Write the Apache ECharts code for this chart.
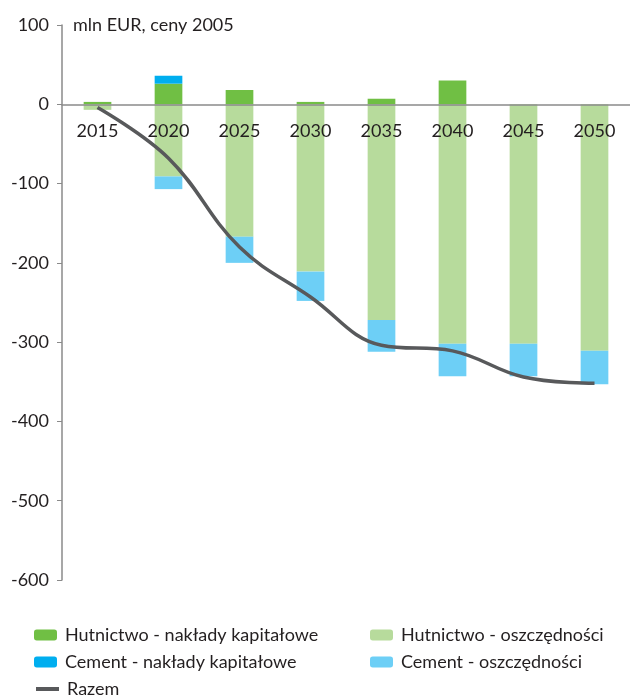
<!DOCTYPE html>
<html>
<head>
<meta charset="utf-8">
<script src="https://cdn.jsdelivr.net/npm/echarts@6/dist/echarts.min.js"></script>
<style>
html,body{margin:0;padding:0;background:#fff;}
#chart{width:630px;height:697px;}
</style>
</head>
<body>
<div id="chart"></div>
<script>
const years = ['2015','2020','2025','2030','2035','2040','2045','2050'];
const steelCapex = [3, 26, 18, 3, 7, 30, 0, 0];
const cementCapex = [0, 10, 0, 0, 0, 0, 0, 0];
const steelSavings = [-7, -91, -167, -211, -272, -302, -302, -311];
const cementSavings = [0, -16, -33, -37, -40, -41, -41, -42];
const razem = [-4, -68, -180, -243, -304, -311, -344, -352];
const yTicks = [100, 0, -100, -200, -300, -400, -500, -600];

const FONT = 'Lato';
const FS = 18;
const TXT = '#231F20';
const AX = '#8a8a8a';
const Y_MIN = -600, Y_MAX = 100;
const GRID_TOP = 25, GRID_BOTTOM = 117, H = 697;
const gridH = H - GRID_TOP - GRID_BOTTOM;
// move the category axis (line + labels) up to the value 0
const zeroOffset = -gridH * (0 - Y_MIN) / (Y_MAX - Y_MIN);

const legendText = {fontFamily: FONT, fontSize: FS, color: TXT, padding: [0,0,0,3]};
function oneLegend(name, left, top, extra) {
  return Object.assign({
    orient: 'horizontal', left: left, top: top, padding: 0,
    itemWidth: 23, itemHeight: 11, textStyle: legendText,
    data: [name]
  }, extra || {});
}

const chart = echarts.init(document.getElementById('chart'));
chart.setOption({
  animation: false,
  textStyle: {fontFamily: FONT},
  title: {
    text: 'mln EUR, ceny 2005', left: 73, top: 16, padding: 0,
    textStyle: {fontFamily: FONT, fontSize: FS, fontWeight: 'normal', color: TXT}
  },
  grid: {left: 62, right: 0, top: GRID_TOP, bottom: GRID_BOTTOM, containLabel: false},
  xAxis: {
    type: 'category', data: years, position: 'bottom', offset: zeroOffset, z: 10,
    axisTick: {show: false},
    axisLine: {onZero: false, lineStyle: {color: AX, width: 1.5}},
    axisLabel: {fontFamily: FONT, fontSize: FS, color: TXT, margin: 18}
  },
  yAxis: {
    type: 'value', min: Y_MIN, max: Y_MAX, interval: 100,
    splitLine: {show: false},
    axisLine: {show: true, lineStyle: {color: AX, width: 1.5}},
    axisTick: {show: true, length: 5, lineStyle: {color: AX}},
    axisLabel: {fontFamily: FONT, fontSize: FS, color: TXT, margin: 13,
      formatter: v => yTicks.includes(v) ? String(v) : ''}
  },
  legend: [
    oneLegend('Hutnictwo - nakłady kapitałowe', 34, 626),
    oneLegend('Hutnictwo - oszczędności', 370, 626),
    oneLegend('Cement - nakłady kapitałowe', 34, 653),
    oneLegend('Cement - oszczędności', 370, 653),
    oneLegend({name: 'Razem', itemStyle: {opacity: 0}}, 34, 680,
      {lineStyle: {width: 4, color: '#58595B'}})
  ],
  series: [
    {name: 'Hutnictwo - nakłady kapitałowe', type: 'bar', stack: 'a', barWidth: '39%',
      itemStyle: {color: '#70BF44'}, data: steelCapex},
    {name: 'Cement - nakłady kapitałowe', type: 'bar', stack: 'a', barWidth: '39%',
      itemStyle: {color: '#00AEEF'}, data: cementCapex},
    {name: 'Hutnictwo - oszczędności', type: 'bar', stack: 'a', barWidth: '39%',
      itemStyle: {color: '#B7DB9C'}, data: steelSavings},
    {name: 'Cement - oszczędności', type: 'bar', stack: 'a', barWidth: '39%',
      itemStyle: {color: '#6DCFF6'}, data: cementSavings},
    {name: 'Razem', type: 'line', smooth: 0.4, symbol: 'none', z: 5,
      lineStyle: {color: '#58595B', width: 3.5}, itemStyle: {color: '#58595B'},
      data: razem}
  ]
});
</script>
</body>
</html>
